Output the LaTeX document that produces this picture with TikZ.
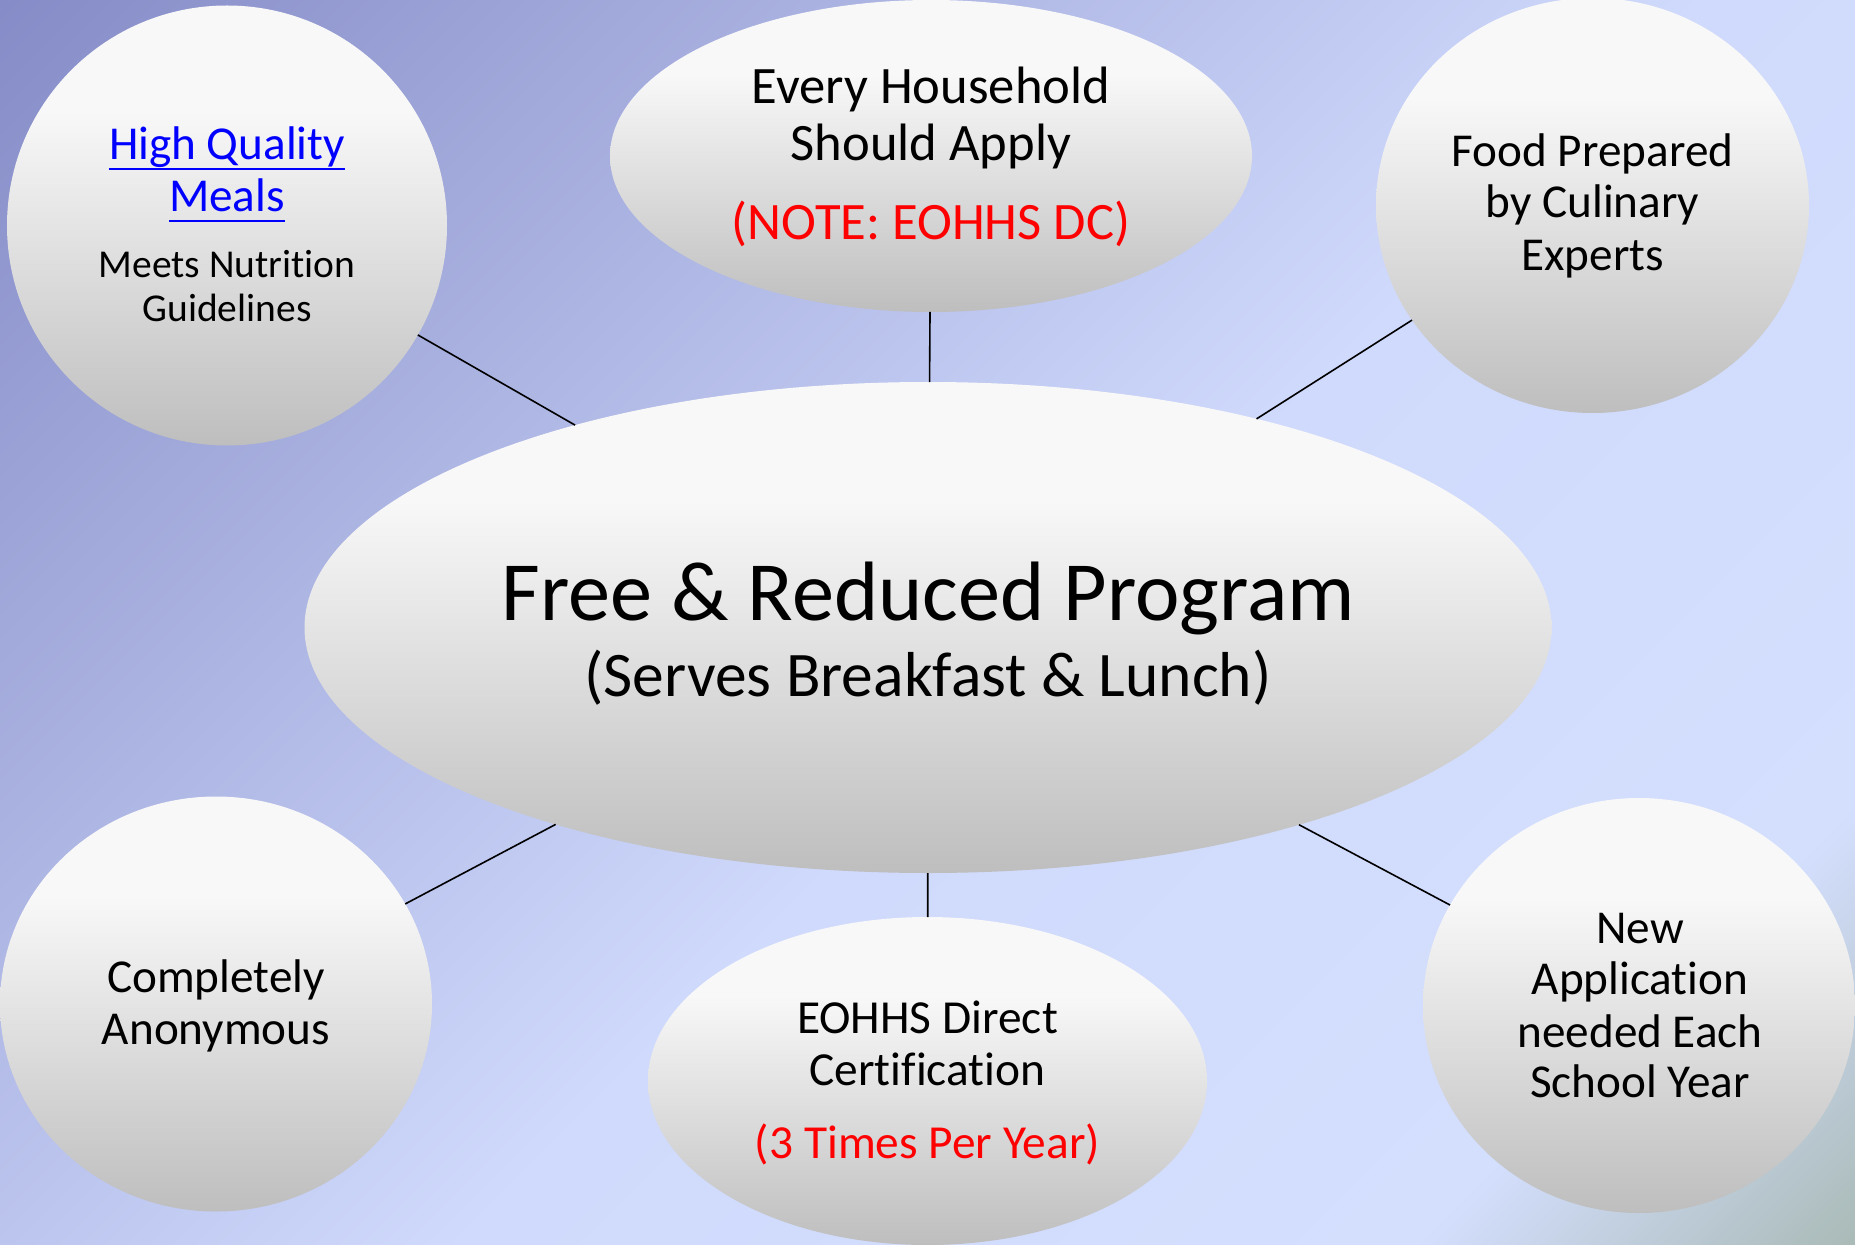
\documentclass[tikz,border=0pt]{standalone}
\usepackage{fontspec}
\setmainfont{Carlito}[Ligatures={NoCommon}]
\usetikzlibrary{shapes.geometric}
\definecolor{bgA}{RGB}{134,140,199}
\definecolor{bgB}{RGB}{208,218,252}
\definecolor{bgC}{RGB}{212,223,254}
\definecolor{bgD}{RGB}{170,187,184}
\definecolor{gA}{RGB}{248,248,248}
\definecolor{gB}{RGB}{190,190,190}
\definecolor{linkblue}{RGB}{0,0,255}
\definecolor{notered}{RGB}{255,0,0}
\pgfdeclarehorizontalshading{bgshade}{100bp}{color(0bp)=(bgA); color(14.64bp)=(bgA); color(53.5bp)=(bgB); color(75.4bp)=(bgC); color(85.36bp)=(bgD); color(100bp)=(bgD)}
\pgfdeclareverticalshading{bubbleshade}{100bp}{color(0bp)=(gB); color(25bp)=(gB); color(63bp)=(gA); color(100bp)=(gA)}
\newsavebox\myulbox
\newcommand\linkul[1]{\sbox\myulbox{#1}\rlap{\rule[-0.22em]{\wd\myulbox}{0.057em}}\usebox\myulbox}
\begin{document}
\begin{tikzpicture}[x=0.5pt,y=-0.5pt,
  bubblenode/.style={ellipse, shade, shading=bubbleshade, draw=none, inner sep=0pt, outer sep=0pt},
  conn/.style={draw=black, line width=0.8pt},
  txt/.style={anchor=base, inner sep=0pt, outer sep=0pt, text=black},
  circtxt/.style={txt, font=\fontsize{23.6pt}{26pt}\selectfont},
  smalltxt/.style={txt, font=\fontsize{19.75pt}{22pt}\selectfont},
  toptxt/.style={txt, font=\fontsize{26.3pt}{29pt}\selectfont},
  bottxt/.style={txt, font=\fontsize{23.7pt}{26pt}\selectfont}]
\useasboundingbox (0,0) rectangle (1855,1245);
\shade[shading=bgshade, shading angle=-45] (0,0) rectangle (1855,1245);

% shapes
\node[bubblenode, minimum width=623.5pt, minimum height=245.5pt] (main) at (928,627.5) {};
\node[bubblenode, minimum width=220pt, minimum height=220pt] (meals) at (227,225.5) {};
\node[bubblenode, minimum width=321pt, minimum height=156pt] (apply) at (931,156) {};
\node[bubblenode, minimum width=216.5pt, minimum height=207.5pt] (food) at (1592.5,205.5) {};
\node[bubblenode, minimum width=216pt, minimum height=207.5pt] (anon) at (216,1004) {};
\node[bubblenode, minimum width=279.5pt, minimum height=164pt] (cert) at (927.5,1081) {};
\node[bubblenode, minimum width=216pt, minimum height=207.5pt] (newapp) at (1639,1005.5) {};

% connectors
\draw[conn] (meals) -- (main);
\draw[conn] (apply) -- (main);
\draw[conn] (food) -- (main);
\draw[conn] (anon) -- (main);
\draw[conn] (cert) -- (main);
\draw[conn] (newapp) -- (main);

% main text
\node[txt, font=\fontsize{42.15pt}{46pt}\selectfont] (mainA) at (928,620) {Free \& Reduced Program};
\node[txt, font=\fontsize{31.75pt}{35pt}\selectfont] (mainB) at (928,696) {(Serves Breakfast \& Lunch)};

% top-left
\node[circtxt, text=linkblue] (mealsA) at (227,160) {\linkul{High Quality}};
\node[circtxt, text=linkblue] (mealsB) at (227,212) {\linkul{Meals}};
\node[smalltxt] (mealsC) at (227,278) {Meets Nutrition};
\node[smalltxt] (mealsD) at (227,322) {Guidelines};

% top
\node[toptxt] (applyA) at (931,104) {Every Household};
\node[toptxt] (applyB) at (931,161) {Should Apply};
\node[toptxt, text=notered] (applyC) at (931,240) {(NOTE: EOHHS DC)};

% top-right
\node[circtxt] (foodA) at (1592.5,167) {Food Prepared};
\node[circtxt] (foodB) at (1592.5,218) {by Culinary};
\node[circtxt] (foodC) at (1592.5,271) {Experts};

% bottom-left
\node[circtxt] (anonA) at (216,992) {Completely};
\node[circtxt] (anonB) at (216,1044) {Anonymous};

% bottom
\node[bottxt] (certA) at (927.5,1033) {EOHHS Direct};
\node[bottxt] (certB) at (927.5,1085) {Certification};
\node[bottxt, text=notered] (certC) at (927.5,1158) {(3 Times Per Year)};

% bottom-right
\node[circtxt] (newappA) at (1640,943) {New};
\node[circtxt] (newappB) at (1640,994) {Application};
\node[circtxt] (newappC) at (1640,1047) {needed Each};
\node[circtxt] (newappD) at (1640,1097) {School Year};
\end{tikzpicture}
\end{document}
